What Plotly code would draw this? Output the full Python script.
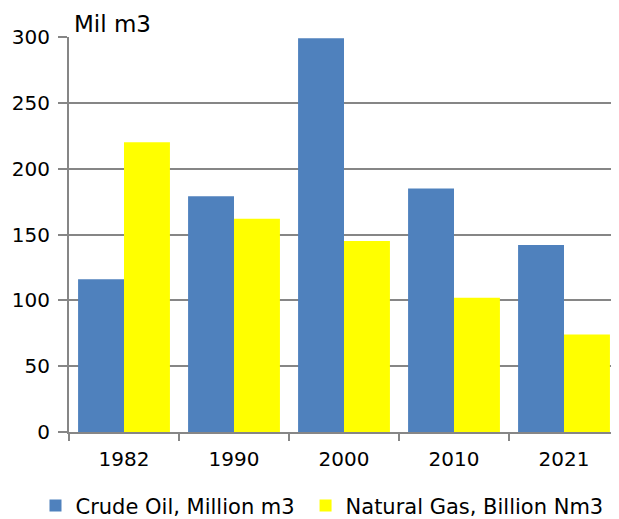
import plotly.graph_objects as go

years = ["1982", "1990", "2000", "2010", "2021"]
crude_oil = [116, 179, 299, 185, 142]
natural_gas = [220, 162, 145, 102, 74]

FONT = "DejaVu Sans, Verdana, sans-serif"
GRID = "#868686"

fig = go.Figure()
fig.add_trace(go.Bar(x=years, y=crude_oil, name="Crude Oil, Million m3",
                     marker=dict(color="#4F81BD", line=dict(width=0)),
                     legend="legend", showlegend=True))
fig.add_trace(go.Bar(x=years, y=natural_gas, name="Natural Gas, Billion Nm3",
                     marker=dict(color="#FFFF00", line=dict(width=0)),
                     legend="legend2", showlegend=True))

leg = dict(orientation="h", xref="container", xanchor="left",
           y=-0.187, yanchor="middle", font=dict(size=21), itemwidth=30,
           bgcolor="rgba(0,0,0,0)")

# page body adds an 8px margin, so the figure is 8px smaller than the window
fig.update_layout(
    width=611, height=511,
    margin=dict(l=61, r=0, t=29, b=87, autoexpand=False),
    paper_bgcolor="white", plot_bgcolor="white",
    font=dict(family=FONT, size=20, color="black"),
    barmode="group", bargap=0.165, bargroupgap=0,
    legend=dict(leg, x=0.045),
    legend2=dict(leg, x=0.487),
    annotations=[dict(text="Mil m3", xref="paper", yref="paper", x=0.0, y=1.0,
                      xshift=3, yshift=-2,
                      xanchor="left", yanchor="bottom", showarrow=False,
                      font=dict(size=23))],
)
fig.update_yaxes(range=[0, 300], dtick=50, showgrid=True, gridcolor=GRID, gridwidth=2,
                 showline=True, linecolor=GRID, linewidth=2,
                 ticks="outside", ticklen=9, tickcolor=GRID, tickwidth=2,
                 ticklabelstandoff=4, zeroline=False)
fig.update_xaxes(showline=True, linecolor=GRID, linewidth=2,
                 ticks="outside", ticklen=7, tickcolor=GRID, tickwidth=2,
                 tickson="boundaries", showgrid=False, ticklabelstandoff=8)

fig.write_html("out.html")
